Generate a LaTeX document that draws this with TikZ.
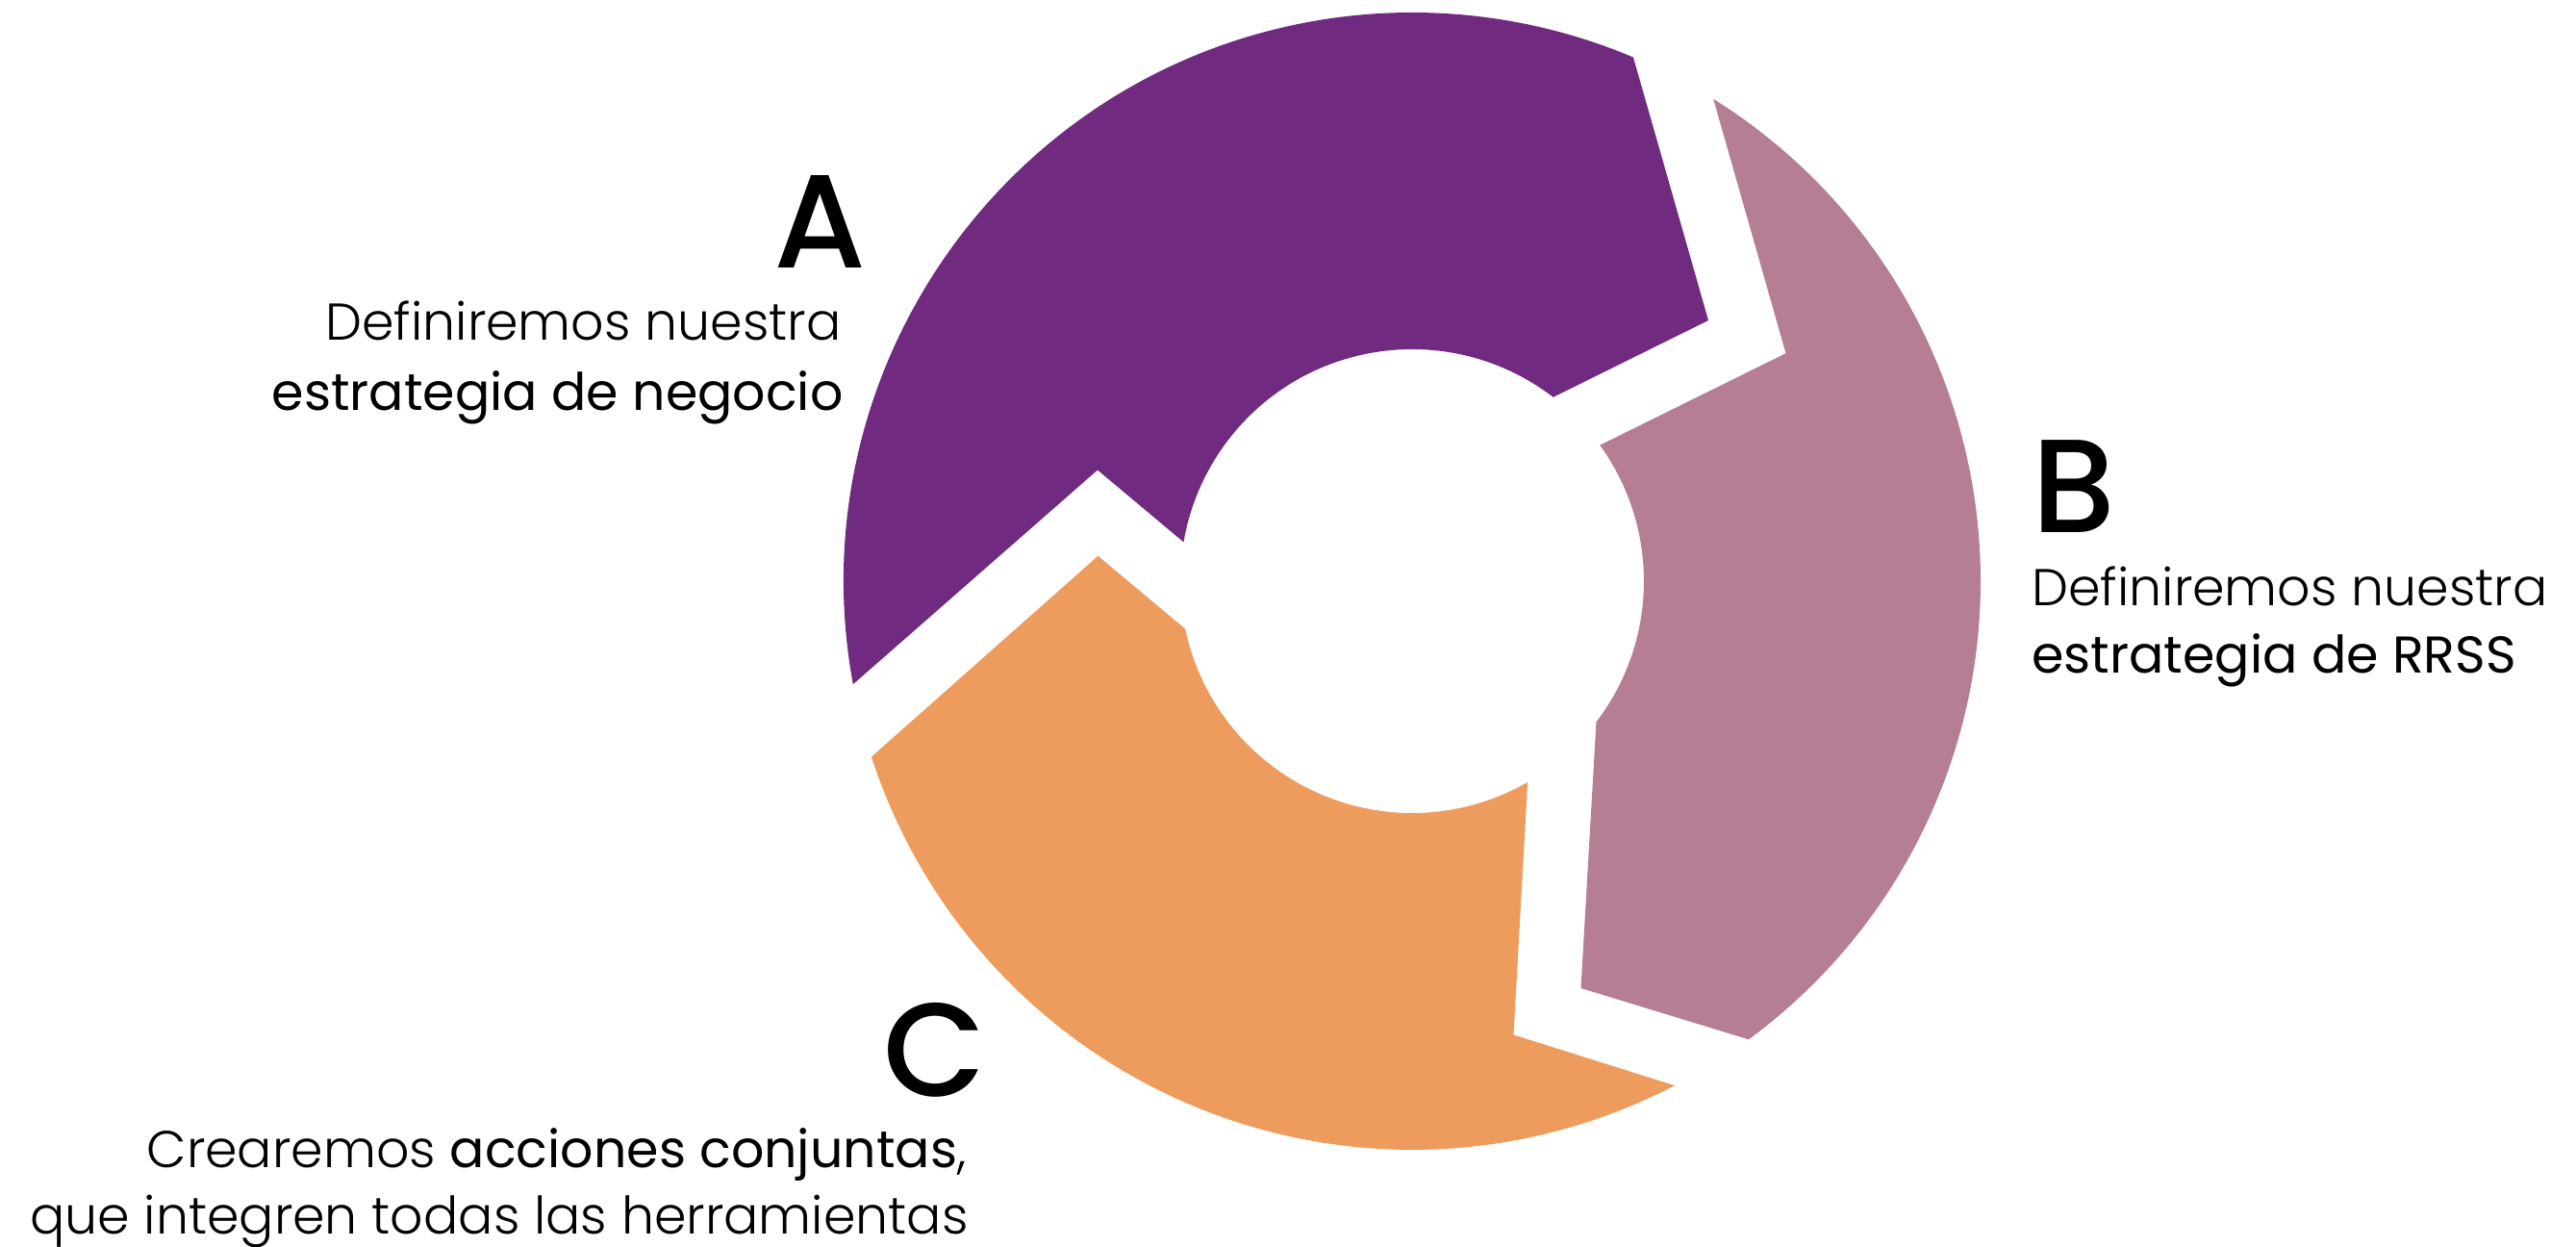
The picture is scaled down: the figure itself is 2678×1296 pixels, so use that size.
\documentclass[tikz,border=0pt]{standalone}
\usepackage{fontspec}
\usetikzlibrary{calc}
\newfontfamily\lightf{Poppins Light}
\newfontfamily\regf{Poppins}
\newfontfamily\medf{Poppins Medium}
\definecolor{cA}{RGB}{112,42,128}
\definecolor{cB}{RGB}{181,126,148}
\definecolor{cC}{RGB}{238,156,94}
\begin{document}
\begin{tikzpicture}[x=0.5pt,y=0.5pt,
  letter/.style={inner sep=0pt,font=\medf\fontsize{69}{69}\selectfont},
  body/.style={inner sep=0pt,font=\lightf\fontsize{26.9}{35}\selectfont}]
\useasboundingbox (0,0) rectangle (2678,1296);
\coordinate (O) at (1468,692);
\def\Ro{591}\def\Ri{241}
% segment A (purple)
\coordinate (P2) at (1141,807.5);
\coordinate (P5) at (1776,963);
\fill[cA] ($(O)+(190.45:\Ro)$) arc[start angle=190.45,end angle=67.1,radius=\Ro]
  -- (P5) -- ($(O)+(52.5:\Ri)$) arc[start angle=52.5,end angle=170.3,radius=\Ri]
  -- (P2) -- cycle;
% segment B (mauve)
\coordinate (Q2) at (1856.5,928.8);
\coordinate (Q5) at (1643.5,269);
\fill[cB] ($(O)+(58:\Ro)$) arc[start angle=58,end angle=-53.7,radius=\Ro]
  -- (Q5) -- ($(O)+(-37.4:\Ri)$) arc[start angle=-37.4,end angle=35.9,radius=\Ri]
  -- (Q2) -- cycle;
% segment C (orange)
\coordinate (S2) at (1141.5,718.2);
\coordinate (S5) at (1573.5,220.5);
\fill[cC] ($(O)+(198:\Ro)$) -- (S2) -- ($(O)+(191.9:\Ri)$)
  arc[start angle=191.9,end angle=299.9,radius=\Ri]
  -- (S5) -- ($(O)+(297.5:\Ro)$) arc[start angle=297.5,end angle=198,radius=\Ro] -- cycle;
% texts
\node[letter,anchor=base east] (la) at (901,1017.7) {A};
\node[body,anchor=base east] (a1) at (875,942.7) {Definiremos nuestra};
\node[body,anchor=base east] (a2) at (877,869.3) {{\regf estrategia de negocio}};
\node[letter,anchor=base west] (lb) at (2112,742.7) {B};
\node[body,anchor=base west] (b1) at (2112,666.7) {Definiremos nuestra};
\node[body,anchor=base west] (b2) at (2112,596) {{\regf estrategia de RRSS}};
\node[letter,anchor=base east] (lc) at (1026,156.7) {C};
\node[body,anchor=base east] (c1) at (1005,82.7) {Crearemos {\regf acciones conjuntas},};
\node[body,anchor=base east] (c2) at (1007,13) {que integren todas las herramientas};
\end{tikzpicture}
\end{document}
